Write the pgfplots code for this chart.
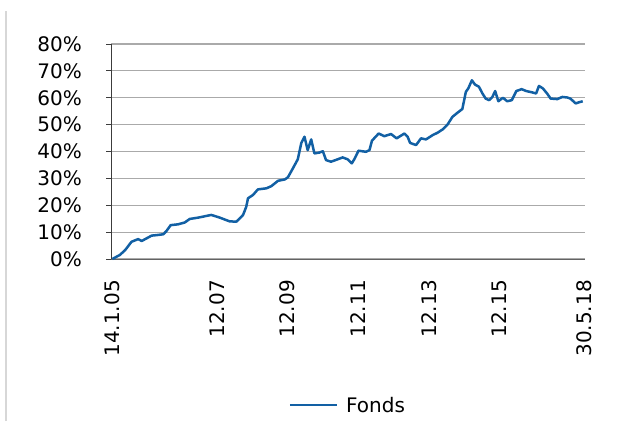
\documentclass[border=0pt]{standalone}
\usepackage{pgfplots}
\pgfplotsset{compat=1.18}
\usepackage{fontspec}
\setmainfont{DejaVu Sans}
\definecolor{fondsblue}{RGB}{18,96,164}
\definecolor{gridgray}{RGB}{170,170,170}
\definecolor{axisdark}{RGB}{60,60,60}
\definecolor{framegray}{RGB}{215,215,215}
\begin{document}
\begin{tikzpicture}[x=1pt,y=1pt]
\path[use as bounding box] (0,0) rectangle (619,421);
\draw[framegray, line width=2pt] (6,0) -- (6,410);
\begin{axis}[
  at={(111pt,162pt)}, anchor=south west,
  scale only axis, width=473.5pt, height=215pt,
  xmin=2005.0, xmax=2018.41, ymin=0, ymax=80,
  axis x line*=bottom, axis y line*=left,
  axis line style={axisdark, line width=1pt},
  x axis line style={-, color=axisdark!80},
  y axis line style={-},
  ytick={0,10,...,80},
  yticklabels={0\%,10\%,20\%,30\%,40\%,50\%,60\%,70\%,80\%},
  xtick={2005.04,2008,2010,2012,2014,2016,2018.41},
  xticklabels={14.1.05,12.07,12.09,12.11,12.13,12.15,30.5.18},
  ymajorgrids, grid style={gridgray, line width=1.2pt},
  major tick length=5pt,
  ytick style={axisdark, line width=1pt},
  xtick style={draw=none},
  tick align=outside,
  every tick label/.append style={font=\fontsize{20}{22}\selectfont},
  yticklabel style={anchor=east, inner sep=0pt, xshift=-24pt},
  xticklabel style={yshift=-16pt, rotate=90, anchor=east, inner sep=0pt},
  legend style={at={(0.5,-0.68)}, anchor=center, draw=none, fill=none,
    font=\fontsize{20}{22}\selectfont},
  legend cell align=left,
  legend image code/.code={\draw[#1, line width=2.5pt] (0pt,0pt) -- (47pt,0pt); \path (53pt,0pt);},
  clip=false,
]
\addplot[fondsblue, line width=2.5pt, line join=round] coordinates {
(2005.04,0.0) (2005.15,0.8) (2005.25,1.5) (2005.40,3.3) (2005.58,6.4) (2005.77,7.4)
(2005.87,6.7) (2006.01,7.7) (2006.15,8.7) (2006.30,8.9) (2006.48,9.2) (2006.57,10.4)
(2006.69,12.6) (2006.90,12.9) (2007.09,13.6) (2007.23,14.9) (2007.47,15.4) (2007.84,16.4)
(2008.08,15.4) (2008.36,14.0) (2008.55,13.9) (2008.69,15.7) (2008.74,16.4) (2008.83,19.4)
(2008.88,22.6) (2009.02,23.8) (2009.16,25.9) (2009.40,26.3) (2009.54,27.1) (2009.73,29.1)
(2009.92,29.6) (2010.01,30.4) (2010.15,33.7) (2010.29,37.1) (2010.39,43.2) (2010.48,45.5)
(2010.57,40.5) (2010.67,44.5) (2010.76,39.3) (2010.90,39.6) (2011.00,40.1) (2011.09,36.8)
(2011.23,36.2) (2011.42,37.1) (2011.56,37.8) (2011.70,37.1) (2011.82,35.6) (2011.89,37.1)
(2012.01,40.3) (2012.22,39.9) (2012.32,40.5) (2012.39,44.0) (2012.58,46.7) (2012.74,45.7)
(2012.93,46.5) (2013.09,44.9) (2013.31,46.7) (2013.40,45.5) (2013.47,43.2) (2013.64,42.4)
(2013.78,44.9) (2013.92,44.5) (2014.11,46.1) (2014.25,47.0) (2014.39,48.2) (2014.53,50.0)
(2014.67,52.9) (2014.81,54.4) (2014.95,55.8) (2015.05,62.2) (2015.12,63.5) (2015.22,66.5)
(2015.31,64.9) (2015.42,64.1) (2015.52,61.6) (2015.61,59.7) (2015.71,59.1) (2015.80,60.3)
(2015.88,62.5) (2015.97,58.7) (2016.10,60.0) (2016.22,58.7) (2016.35,59.1) (2016.48,62.5)
(2016.63,63.2) (2016.76,62.5) (2016.93,62.0) (2017.04,61.6) (2017.12,64.4) (2017.23,63.5)
(2017.35,61.6) (2017.45,59.7) (2017.64,59.5) (2017.78,60.3) (2017.92,60.1) (2018.01,59.7)
(2018.16,57.9) (2018.25,58.3) (2018.36,58.7)
};
\addlegendentry{Fonds}
\end{axis}
\end{tikzpicture}
\end{document}
